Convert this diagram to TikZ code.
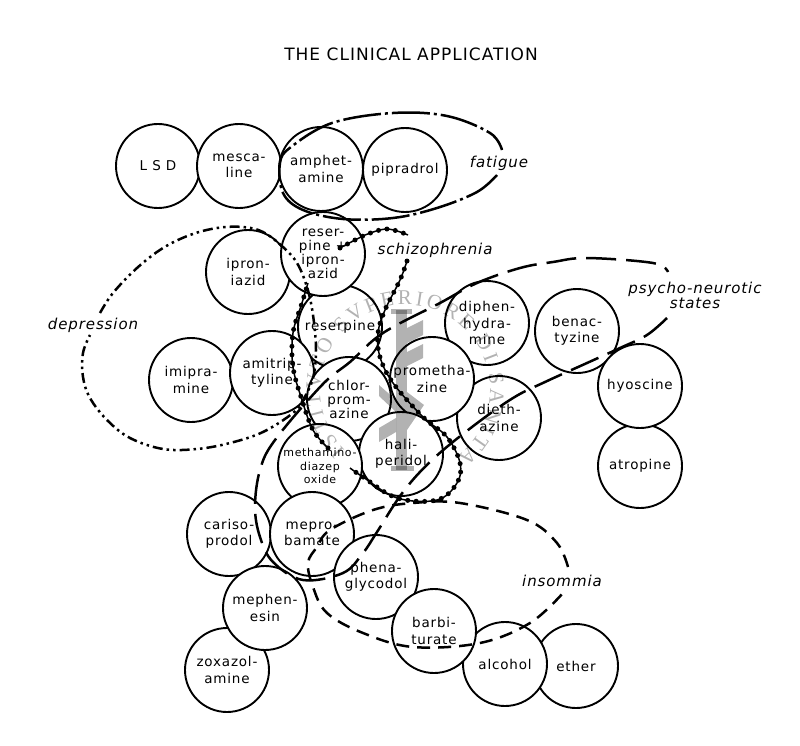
\documentclass[tikz,border=0pt]{standalone}
\usepackage{fontspec}
\setmainfont{DejaVu Sans}[LetterSpace=6]
\newfontfamily\stampfont{Liberation Serif}
\usetikzlibrary{decorations.text}

\tikzset{
	drug/.style={circle,draw,fill=white,line width=1.9pt,minimum size=84pt,inner sep=0pt,
		align=center,font=\fontsize{13.5}{16.5}\selectfont},
	tight/.style={font=\fontsize{13.5}{14}\selectfont},
	small/.style={font=\fontsize{11}{13.5}\selectfont},
	tag/.style={align=center,font=\fontsize{15}{15}\selectfont\itshape},
	blob/.style={line width=2.5pt,smooth,tension=0.6},
	fatigueline/.style={blob,dash pattern=on 38pt off 4pt on 3pt off 4pt},
	depressionline/.style={blob,dash pattern=on 10pt off 4pt on 2.5pt off 4pt on 2.5pt off 4pt},
	psycholine/.style={blob,dash pattern=on 30pt off 10pt},
	insomnialine/.style={blob,dash pattern=on 13pt off 8pt},
}
\newcommand{\beadline}[1]{
	\draw[line width=1.5pt,smooth,tension=0.6] plot coordinates {#1};
	\draw[line width=5pt,line cap=round,dash pattern=on 0pt off 8.5pt,smooth,tension=0.6] plot coordinates {#1};
}

\begin{document}
\begin{tikzpicture}[x=1pt,y=-1pt]
	\useasboundingbox (0,0) rectangle (800,746);
	\fill[white] (0,0) rectangle (800,746);

	\node[font=\fontsize{17}{18}\selectfont] (title) at (411,54) {THE CLINICAL APPLICATION};

	% circles, the later ones lie on top
	\node[drug] (lsd) at (158,166) {L S D};
	\node[drug] (mescaline) at (239,166) {mesca-\\line};
	\node[drug] (amphetamine) at (321,169) {amphet-\\amine};
	\node[drug] (pipradrol) at (405,170) {pipradrol};
	\node[drug] (iproniazid) at (248,272) {ipron-\\iazid};
	\node[drug] (reserpine) at (340,327) {reserpine};
	\node[drug,tight] (combined) at (323,254) {reser-\\pine +\\ipron-\\azid};
	\node[drug] (imipramine) at (191,380) {imipra-\\mine};
	\node[drug] (amitriptyline) at (272,373) {amitrip-\\tyline};
	\node[drug,tight] (chlorpromazine) at (349,399) {chlor-\\prom-\\azine};
	\node[drug] (diphenhydramine) at (487,323) {diphen-\\hydra-\\mine};
	\node[drug] (diethazine) at (499,418) {dieth-\\azine};
	\node[drug] (promethazine) at (432,379) {prometha-\\zine};
	\node[drug] (haliperidol) at (401,454) {hali-\\peridol};
	\node[drug,small] (methamino) at (320,466) {methamino-\\diazep\\oxide};
	\node[drug] (benactyzine) at (577,331) {benac-\\tyzine};
	\node[drug] (atropine) at (640,466) {atropine};
	\node[drug] (hyoscine) at (640,386) {hyoscine};
	\node[drug] (carisoprodol) at (229,534) {cariso-\\prodol};
	\node[drug] (meprobamate) at (312,534) {mepro-\\bamate};
	\node[drug] (zoxazolamine) at (227,670) {zoxazol-\\amine};
	\node[drug] (mephenesin) at (265,608) {mephen-\\esin};
	\node[drug] (phenaglycodol) at (376,577) {phena-\\glycodol};
	\node[drug] (ether) at (576,666) {ether};
	\node[drug] (alcohol) at (505,664) {alcohol};
	\node[drug] (barbiturate) at (434,631) {barbi-\\turate};

	% the groups
	\draw[fatigueline] plot coordinates {(497,175) (477,192) (437,208) (393,218) (343,219) (303,210) (283,193) (280,163)
		(291,147) (332,123) (393,113) (447,116) (490,133) (502,150)};
	\draw[depressionline] plot coordinates {(100,313) (113,293) (137,268) (163,248) (190,235) (217,228) (243,227) (263,232)
		(283,247) (297,263) (307,287) (313,315) (316,350) (313,378) (303,400) (293,413) (263,432) (230,443) (197,449)
		(163,449) (130,438) (107,420) (90,398) (83,377) (83,353) (90,335)};
	\draw[psycholine] plot coordinates {(667,318) (647,335) (620,348) (587,363) (545,382) (513,398) (472,427) (432,460)
		(403,492) (377,532) (363,553) (343,573) (303,580) (273,562) (260,537) (255,507) (260,470) (275,440) (322,385)
		(350,362) (383,333) (440,303) (477,283) (520,268) (553,262) (587,258) (653,263) (668,272)};
	\draw[insomnialine] plot coordinates {(568,567) (557,543) (527,520) (460,503) (413,503) (373,510) (330,530) (317,547)
		(308,563) (313,587) (327,613) (363,633) (413,647) (480,643) (530,623) (563,593)};

	% beads on a line, in pieces around the labels
	\beadline{(340,248) (355,240) (365,235) (387,229) (408,235)}
	\beadline{(407,261) (400,280) (385,310) (378,333) (380,357) (393,383) (423,417) (447,437) (460,463) (457,483) (437,500)
		(397,498) (363,477) (350,468)}
	\beadline{(328,448) (313,430) (302,400) (293,367) (293,333) (302,303) (308,283)}

	\node[tag] (fatigue) at (499,163) {fatigue};
	\node[tag] (schizophrenia) at (435,250) {schizophrenia};
	\node[tag] (depression) at (93,325) {depression};
	\node[tag] (psycho) at (695,295) {psycho-neurotic\\states};
	\node[tag] (insomnia) at (562,581) {insommia};

	% stamp laid over the print
	\begin{scope}[opacity=0.3]
		\fill (396,310) rectangle (407,470);
		\fill (391,309) rectangle (412,314);
		\fill (391,466) rectangle (414,471);
		\fill (407,328) -- (423,320) -- (423,335) -- (407,343) -- cycle;
		\fill (407,352) -- (423,344) -- (423,358) -- (407,366) -- cycle;
		\fill (379,385) -- (396,400) -- (396,412) -- (379,396) -- cycle;
		\fill (379,428) -- (396,418) -- (396,432) -- (379,442) -- cycle;
		\fill (407,392) -- (424,405) -- (407,430) -- cycle;
		\path[decorate,decoration={text along path,text align=fit to path,
			text={|\fontsize{21}{21}\stampfont|ISTITVTO SVPERIORE DI SANITA}}]
			(345,450) arc[start angle=135,end angle=412,radius=85];
	\end{scope}
\end{tikzpicture}
\end{document}
